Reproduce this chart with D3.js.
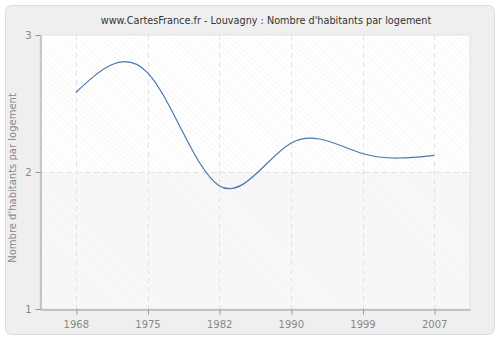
<!DOCTYPE html>
<html>
<head>
<meta charset="utf-8">
<script src="https://cdn.jsdelivr.net/npm/d3@7"></script>
<style>
  html, body { margin: 0; padding: 0; background: #ffffff; }
  svg { display: block; }
</style>
</head>
<body>
<svg id="chart" width="500" height="340"></svg>
<script>
// Census years and average number of inhabitants per dwelling
const years = ["1968", "1975", "1982", "1990", "1999", "2007"];
const values = [2.58, 2.725, 1.9, 2.21, 2.135, 2.122];
const yTicks = [1, 2, 3];
const titleText = "www.CartesFrance.fr - Louvagny : Nombre d'habitants par logement";
const yLabel = "Nombre d'habitants par logement";

const svg = d3.select("#chart");
const W = 500, H = 340;
const plot = { left: 40, right: 470, top: 35, bottom: 309 };
const font = "DejaVu Sans, Verdana, sans-serif";

// Outer panel
svg.append("rect")
  .attr("x", 5.5).attr("y", 5.5)
  .attr("width", W - 11).attr("height", H - 11)
  .attr("rx", 6).attr("ry", 6)
  .attr("fill", "#efefef")
  .attr("stroke", "#dcdcdc");

// Diagonal hatch pattern for the plot background
const defs = svg.append("defs");
const pat = defs.append("pattern")
  .attr("id", "hatch")
  .attr("patternUnits", "userSpaceOnUse")
  .attr("width", 4).attr("height", 4)
  .attr("patternTransform", "rotate(-45)");
pat.append("line")
  .attr("x1", 0).attr("y1", 0).attr("x2", 0).attr("y2", 4)
  .attr("stroke", "#efefef").attr("stroke-width", 1);

const x = d3.scalePoint().domain(years).range([plot.left, plot.right]).padding(0.5);
const y = d3.scaleLinear().domain([1, 3]).range([plot.bottom, plot.top]);

// Plot background: white upper band, lightly shaded lower band, then hatching
svg.append("rect")
  .attr("x", plot.left).attr("y", plot.top)
  .attr("width", plot.right - plot.left).attr("height", plot.bottom - plot.top)
  .attr("fill", "#ffffff");
svg.append("rect")
  .attr("x", plot.left).attr("y", y(2))
  .attr("width", plot.right - plot.left).attr("height", plot.bottom - y(2))
  .attr("fill", "#f8f8f8");
svg.append("rect")
  .attr("x", plot.left).attr("y", plot.top)
  .attr("width", plot.right - plot.left).attr("height", plot.bottom - plot.top)
  .attr("fill", "url(#hatch)")
  .attr("stroke", "#e2e2e2");

// Dashed grid lines
const grid = svg.append("g")
  .attr("stroke", "#e2e2e2")
  .attr("stroke-dasharray", "5,4")
  .attr("stroke-width", 1);
grid.selectAll("line.v").data(years).join("line")
  .attr("class", "v")
  .attr("x1", d => Math.round(x(d)) + 0.5).attr("x2", d => Math.round(x(d)) + 0.5)
  .attr("y1", plot.top).attr("y2", plot.bottom);
grid.selectAll("line.h").data(yTicks.filter(t => t > 1 && t < 3)).join("line")
  .attr("class", "h")
  .attr("x1", plot.left).attr("x2", plot.right)
  .attr("y1", d => Math.round(y(d)) + 0.5).attr("y2", d => Math.round(y(d)) + 0.5);

// Axes
const xAxis = svg.append("g")
  .attr("transform", `translate(0,${plot.bottom + 0.5})`)
  .call(d3.axisBottom(x).tickSize(5).tickSizeOuter(0).tickPadding(6));
const yAxis = svg.append("g")
  .attr("transform", `translate(${plot.left + 0.5},0)`)
  .call(d3.axisLeft(y).tickValues(yTicks).tickFormat(d3.format("d")).tickSize(5).tickSizeOuter(0).tickPadding(4));

[xAxis, yAxis].forEach(g => {
  g.select(".domain").attr("stroke", "#999999");
  g.selectAll(".tick line").attr("stroke", "#999999");
  g.selectAll(".tick text")
    .attr("fill", "#888888")
    .attr("font-family", font)
    .attr("font-size", 10);
});
xAxis.selectAll(".tick line").attr("transform", "translate(0.5,0)");

// Data curve: natural cubic spline through the census values
const line = d3.line()
  .x((d, i) => x(years[i]))
  .y(d => y(d))
  .curve(d3.curveNatural);
svg.append("path")
  .datum(values)
  .attr("d", line)
  .attr("fill", "none")
  .attr("stroke", "#4a78ad")
  .attr("stroke-width", 1.2);

// Title
svg.append("text")
  .attr("x", 266).attr("y", 24)
  .attr("text-anchor", "middle")
  .attr("font-family", font)
  .attr("font-size", 9.7)
  .attr("fill", "#333333")
  .text(titleText);

// Y axis label
svg.append("text")
  .attr("transform", `translate(16,${(plot.top + plot.bottom) / 2 + 6}) rotate(-90)`)
  .attr("text-anchor", "middle")
  .attr("font-family", font)
  .attr("font-size", 10)
  .attr("fill", "#888888")
  .text(yLabel);
</script>
</body>
</html>
